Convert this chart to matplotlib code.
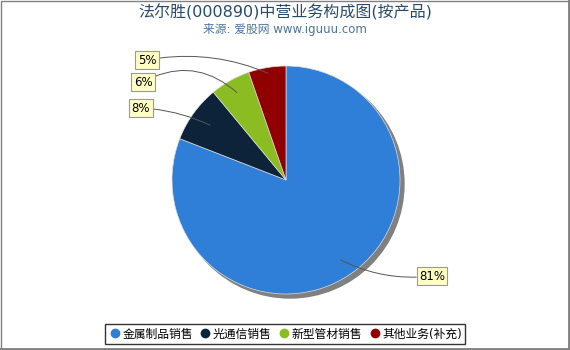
import numpy as np
import matplotlib.pyplot as plt
from matplotlib.patches import Circle, Rectangle

plt.rcParams['font.family'] = ['DejaVu Sans', 'Noto Sans CJK SC']

# data
products = ["金属制品销售", "光通信销售", "新型管材销售", "其他业务(补充)"]
shares = [80.9, 8.1, 5.7, 5.3]
labels = ["81%", "8%", "6%", "5%"]
colors = ["#2f7ed8", "#0d233a", "#8bbc21", "#910000"]

title = "法尔胜(000890)中营业务构成图(按产品)"
subtitle = "来源: 爱股网 www.iguuu.com"

W, H = 570, 350
fig = plt.figure(figsize=(W / 100, H / 100), dpi=100)
ax = fig.add_axes([0, 0, 1, 1])

cx, cy, r = 286, H - 180, 114

# shadow
ax.add_patch(Circle((cx + 4, cy - 4), r, color="#808080", zorder=1))

wedges, _ = ax.pie(shares, colors=colors, startangle=90, counterclock=False,
                   center=(cx, cy), radius=r,
                   wedgeprops=dict(edgecolor="#dddddd", linewidth=0.5, zorder=2))
for w in wedges:
    w.set_zorder(2)

# label boxes (pixel positions, y from top)
text_pos = [(432, 276), (141, 108), (143, 82), (147, 60)]
anchor_r = [0.85, 0.82, 0.88, 0.95]
rads = [-0.15, -0.1, -0.35, -0.15]
for w, lab, (tx, ty), ar, rad in zip(wedges, labels, text_pos, anchor_r, rads):
    ang = np.deg2rad((w.theta1 + w.theta2) / 2)
    px, py = cx + ar * r * np.cos(ang), cy + ar * r * np.sin(ang)
    ax.annotate(lab, xy=(px, py), xytext=(tx, H - ty), fontsize=8.5,
                ha="center", va="center", zorder=5,
                bbox=dict(boxstyle="square,pad=0.2", fc="#ffffc4", ec="#999999", lw=0.8),
                arrowprops=dict(arrowstyle="-", color="#555555", lw=0.7,
                                connectionstyle=f"arc3,rad={rad}",
                                shrinkA=0, shrinkB=0))

ax.set_xlim(0, W)
ax.set_ylim(0, H)
ax.set_aspect("equal")
ax.axis("off")

fig.text(0.5, 1 - 12 / H, title, ha="center", va="center", fontsize=11.5, color="#274b6d")
fig.text(0.5, 1 - 29 / H, subtitle, ha="center", va="center", fontsize=8.5, color="#4d759e")

handles = [plt.Line2D([], [], marker="o", ls="", color=c, markersize=6) for c in colors]
leg = fig.legend(handles, products, loc="lower center", bbox_to_anchor=(0.5, 0.0),
                 ncol=4, fontsize=8.5, frameon=True, handletextpad=0.1,
                 columnspacing=0.5, borderpad=0.3, handlelength=1.1,
                 fancybox=False, edgecolor="black")
leg.get_frame().set_linewidth(1.0)

# figure border
fig.add_artist(Rectangle((0.5 / W, 1.0 / H), 1 - 2 / W, 1 - 1.8 / H, transform=fig.transFigure,
                         fill=False, ec="#808080", lw=1.0))
fig.add_artist(plt.Line2D([1 - 1 / W, 1 - 1 / W], [0, 1], transform=fig.transFigure,
                          color="#808080", lw=2))
fig.add_artist(plt.Line2D([0, 1], [1 / H, 1 / H], transform=fig.transFigure,
                          color="#808080", lw=2))

fig.savefig("out.png", dpi=100)
